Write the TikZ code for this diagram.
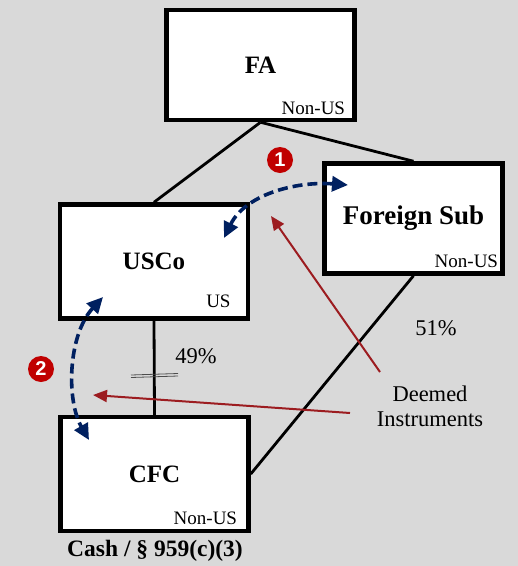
\documentclass[tikz,border=0pt]{standalone}
\usepackage{fontspec}
\setmainfont{Liberation Serif}
\newfontfamily\badgefont{Liberation Sans}
\usetikzlibrary{arrows.meta,positioning}
\definecolor{bggray}{HTML}{D9D9D9}
\definecolor{navy}{HTML}{002060}
\definecolor{deemred}{HTML}{9C1C20}
\definecolor{badgered}{HTML}{C00000}

\begin{document}
\begin{tikzpicture}[x=1pt,y=-1pt,
    entity/.style={draw, line width=4.5pt, fill=white, minimum width=188pt,
        minimum height=110pt, font=\fontsize{25}{28}\selectfont\bfseries},
    tag/.style={inner sep=0pt, font=\fontsize{19}{22}\selectfont},
    link/.style={line width=2.8pt},
    hashmark/.style={line width=0.8pt, black!70},
    swap/.style={navy, line width=3.6pt, dash pattern=on 10pt off 5pt,
        {Triangle[length=16pt,width=15pt]}-{Triangle[length=16pt,width=15pt]}},
    deem/.style={deemred, line width=2pt, -{Triangle[length=14pt,width=12pt]}},
    badge/.style={circle, fill=badgered, text=white, inner sep=0pt, minimum size=26pt,
        font=\badgefont\bfseries\fontsize{20}{20}\selectfont},
    note/.style={font=\fontsize{22.5}{25}\selectfont, align=center}]
    \fill [bggray] (0,0) rectangle (518,566);
    \useasboundingbox (0,0) rectangle (518,566);

    \node [entity] (fa) at (260.5,65) {FA};
    \node [entity, minimum width=178pt, font=\fontsize{27}{30}\selectfont\bfseries] (fsub) at (413.5,218.5) {Foreign Sub};
    \node [entity, minimum height=114pt] (usco) at (154,261.5) {USCo};
    \node [entity, minimum height=114pt] (cfc) at (154.5,474) {CFC};

    \node [tag, above left=7.5pt and 11.5pt of fa.south east] {Non-US};
    \node [tag, above left=7.5pt and 6.5pt of fsub.south east] {Non-US};
    \node [tag, above left=12.5pt and 19.5pt of usco.south east] {US};
    \node [tag, above left=8.5pt and 13.5pt of cfc.south east] {Non-US};

    \draw [link] (fa.south) -- (usco.north);
    \draw [link] (fa.south) -- (fsub.north);
    \draw [link] (usco.south) -- (cfc.north);
    \draw [link] (fsub.south) -- (cfc.east);

    \draw [hashmark] (131,375) -- (178,373.5);
    \draw [hashmark] (131,377.5) -- (178,376);

    \node [note] (own49) at (196,356) {49\%};
    \node [note] (own51) at (436,328) {51\%};
    \node [note] (deemed) at (430,406) {Deemed\\Instruments};
    \node [font=\fontsize{23.5}{26}\selectfont\bfseries] (cash) at (155,551) {Cash / \S\ 959(c)(3)};

    \coordinate (fsubin) at (348,185);
    \coordinate (uscoin) at (224,238);
    \coordinate (uscoout) at (103,297);
    \coordinate (cfcin) at (89,440);
    \draw [swap] (uscoin) .. controls (245,195) and (295,181) .. (fsubin);
    \draw [swap] (uscoout) .. controls (68,335) and (66,400) .. (cfcin);

    \coordinate (deem1) at (380,372);
    \coordinate (tip1) at (271,216);
    \coordinate (deem2) at (350,413);
    \coordinate (tip2) at (93,395);
    \draw [deem] (deem1) -- (tip1);
    \draw [deem] (deem2) -- (tip2);

    \node [badge] (one) at (280,160) {1};
    \node [badge] (two) at (41,369) {2};
\end{tikzpicture}
\end{document}
